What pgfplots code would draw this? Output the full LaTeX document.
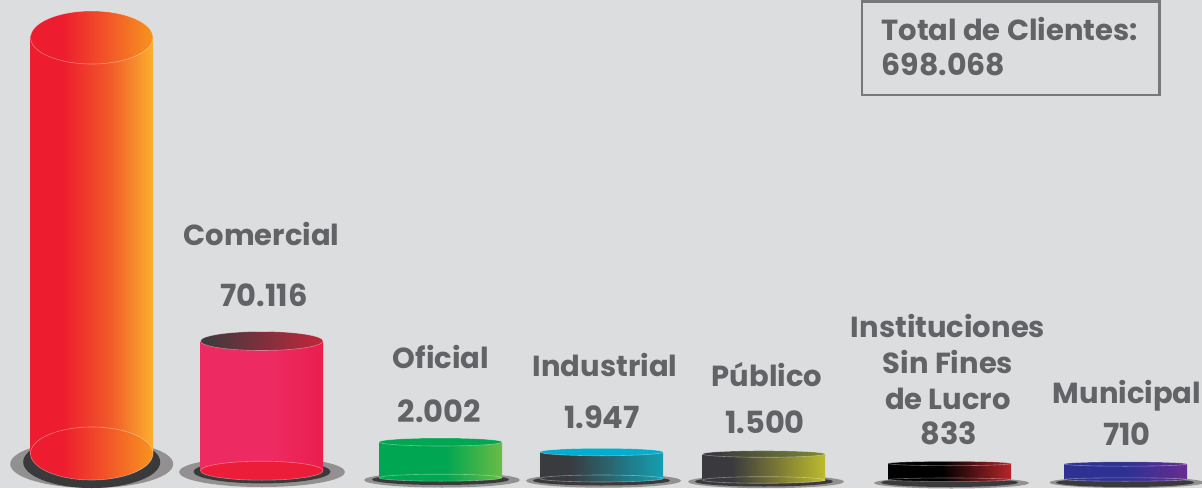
\documentclass[border=0pt]{standalone}
\usepackage{pgfplots}
\pgfplotsset{compat=1.18}
\usepackage{fontspec}
\setmainfont{Poppins}
\usetikzlibrary{shapes.geometric}
\definecolor{bg}{HTML}{DCDDDF}
\definecolor{txt}{HTML}{626366}
\definecolor{boxc}{HTML}{77787B}
\definecolor{sgray}{HTML}{939091}
\definecolor{sdark}{HTML}{3A3A3D}
\definecolor{b1a}{HTML}{ED1C2E}\definecolor{b1b}{HTML}{F15A29}\definecolor{b1c}{HTML}{FBB02D}
\definecolor{c1a}{HTML}{ED1C2E}\definecolor{c1b}{HTML}{F25A28}\definecolor{c1c}{HTML}{F7941E}
\definecolor{b2a}{HTML}{EE2A62}\definecolor{b2b}{HTML}{E91E4E}
\definecolor{c2a}{HTML}{3A3A3E}\definecolor{c2b}{HTML}{C1273A}
\definecolor{b3a}{HTML}{00A651}\definecolor{b3b}{HTML}{6ABD45}
\definecolor{b4a}{HTML}{393B3F}\definecolor{b4b}{HTML}{139FB3}\definecolor{c4}{HTML}{00AECF}
\definecolor{b5a}{HTML}{3A3A3E}\definecolor{b5b}{HTML}{BDBB2C}\definecolor{c5b}{HTML}{7C8A35}
\definecolor{b6a}{HTML}{000000}\definecolor{b6b}{HTML}{B5252B}
\definecolor{b7a}{HTML}{2E3192}\definecolor{b7b}{HTML}{662D91}
\pgfdeclarehorizontalshading{b1}{100bp}{color(0bp)=(b1a);color(38bp)=(b1a);color(57.5bp)=(b1b);color(75bp)=(b1c);color(100bp)=(b1c)}
\pgfdeclarehorizontalshading{c1}{100bp}{color(0bp)=(c1a);color(38bp)=(c1a);color(57.5bp)=(c1b);color(75bp)=(c1c);color(100bp)=(c1c)}
\pgfdeclarehorizontalshading{b2}{100bp}{color(0bp)=(b2a);color(25bp)=(b2a);color(55bp)=(b2a);color(75bp)=(b2b);color(100bp)=(b2b)}
\pgfdeclarehorizontalshading{c2}{100bp}{color(0bp)=(c2a);color(25bp)=(c2a);color(75bp)=(c2b);color(100bp)=(c2b)}
\pgfdeclarehorizontalshading{b3}{100bp}{color(0bp)=(b3a);color(52bp)=(b3a);color(75bp)=(b3b);color(100bp)=(b3b)}
\pgfdeclarehorizontalshading{b4}{100bp}{color(0bp)=(b4a);color(37bp)=(b4a);color(75bp)=(b4b);color(100bp)=(b4b)}
\pgfdeclarehorizontalshading{b5}{100bp}{color(0bp)=(b5a);color(37bp)=(b5a);color(75bp)=(b5b);color(100bp)=(b5b)}
\pgfdeclarehorizontalshading{c5}{100bp}{color(0bp)=(b5a);color(30bp)=(b5a);color(75bp)=(c5b);color(100bp)=(c5b)}
\pgfdeclarehorizontalshading{b6}{100bp}{color(0bp)=(b6a);color(47bp)=(b6a);color(75bp)=(b6b);color(100bp)=(b6b)}
\pgfdeclarehorizontalshading{b7}{100bp}{color(0bp)=(b7a);color(50bp)=(b7a);color(75bp)=(b7b);color(100bp)=(b7b)}
\pgfplotsset{
  el/.style n args={3}{draw=none, no markers, nodes near coords={},
    nodes near coords style={shape=ellipse, anchor=center, inner sep=0pt, outer sep=0pt, overlay,
      minimum width=#1pt, minimum height=#2pt, #3}},
  body/.style={draw=none, no markers},
  page/.style={hide axis, scale only axis, width=1202pt, height=488pt,
    xmin=0, xmax=1202, ymin=0, ymax=488, clip=false},
}
\tikzset{rim/.style={draw=white, draw opacity=.38, line width=.6pt}}
\newcommand\lab[3]{\node[overlay, anchor=base, text=txt, font=\fontsize{29}{34}\selectfont\bfseries] at (axis cs:#1,#2) {#3};}
\newcommand\labn[3]{\node[overlay, anchor=base, text=txt, font=\fontsize{30.5}{34}\selectfont\bfseries] at (axis cs:#1,#2) {#3};}
\begin{document}
\begin{tikzpicture}
\begin{axis}[page]
% background
\addplot[fill=bg, draw=none, no markers] coordinates {(0,0)(1202,0)(1202,488)(0,488)} -- cycle;
% base shadows: outer, inner
\addplot[el={163}{48}{fill=sgray}] coordinates {(91.7,24)};
\addplot[el={137}{52}{fill=sdark}] coordinates {(91.7,26)};
\addplot[el={166}{30}{fill=sgray}] coordinates {(262,16)};
\addplot[el={137}{23.4}{fill=sdark}] coordinates {(262,16.3)};
\addplot[el={156}{15}{fill=sgray}] coordinates {(442,8)};
\addplot[el={137}{11}{fill=sdark}] coordinates {(440.5,8.5)};
\addplot[el={155}{14}{fill=sgray}] coordinates {(603.5,7.3)};
\addplot[el={137}{10}{fill=sdark}] coordinates {(601.5,7.5)};
\addplot[el={156}{13}{fill=sgray}] coordinates {(766,6.3)};
\addplot[el={138}{10}{fill=sdark}] coordinates {(764,6.5)};
\addplot[el={155}{11}{fill=sgray}] coordinates {(951.5,5)};
\addplot[el={137}{9}{fill=sdark}] coordinates {(949.5,5.5)};
\addplot[el={155}{11}{fill=sgray}] coordinates {(1127,5.5)};
\addplot[el={138}{9}{fill=sdark}] coordinates {(1125,5.5)};
\end{axis}
\begin{axis}[page]
% cylinder 1
\addplot[body, shading=b1] coordinates {(30.5,34.5)(30.5,450.5)(153,450.5)(153,34.5)} -- cycle;
\addplot[el={122.5}{53}{shading=c1, rim}] coordinates {(91.75,34.5)};
\addplot[el={122.5}{53}{shading=c1, rim}] coordinates {(91.75,450.5)};
% cylinder 2
\addplot[body, shading=b2] coordinates {(200.5,17.3)(200.5,147)(323,147)(323,17.3)} -- cycle;
\addplot[el={122.5}{19}{fill=b1a!70!b2b, rim}] coordinates {(261.75,17.3)};
\addplot[el={122.5}{19}{shading=c2, rim}] coordinates {(261.75,147)};
% cylinder 3
\addplot[body, shading=b3] coordinates {(379,10.3)(379,46)(502,46)(502,10.3)} -- cycle;
\addplot[el={123}{7}{shading=b3, rim}] coordinates {(440.5,10.3)};
\addplot[el={123}{8}{fill=b3a, rim}] coordinates {(440.5,46)};
% cylinder 4
\addplot[body, shading=b4] coordinates {(540,9.5)(540,36)(663,36)(663,9.5)} -- cycle;
\addplot[el={123}{7}{shading=b4, rim}] coordinates {(601.5,9.5)};
\addplot[el={123}{7.5}{fill=c4, rim}] coordinates {(601.5,36)};
% cylinder 5
\addplot[body, shading=b5] coordinates {(702.5,8)(702.5,34)(825,34)(825,8)} -- cycle;
\addplot[el={122.5}{6.6}{shading=b5, rim}] coordinates {(763.75,8)};
\addplot[el={122.5}{6.6}{shading=c5, rim}] coordinates {(763.75,34)};
% cylinder 6
\addplot[body, shading=b6] coordinates {(888,8.3)(888,24.5)(1011,24.5)(1011,8.3)} -- cycle;
\addplot[el={123}{3.4}{shading=b6, rim}] coordinates {(949.5,8.3)};
\addplot[el={123}{4.4}{shading=b6, rim}] coordinates {(949.5,24.5)};
% cylinder 7
\addplot[body, shading=b7] coordinates {(1064,8.5)(1064,24)(1187,24)(1187,8.5)} -- cycle;
\addplot[el={123}{3.4}{shading=b7, rim}] coordinates {(1125.5,8.5)};
\addplot[el={123}{4.4}{shading=b7, rim}] coordinates {(1125.5,24)};
% box
\addplot[draw=boxc, line width=2.6pt, no markers] coordinates {(862,393)(862,486.5)(1159.5,486.5)(1159.5,393)} -- cycle;
% labels
\lab{261.5}{242}{Comercial}
\labn{264}{182}{70.116}
\lab{441}{120}{Oficial}
\labn{439.5}{66}{2.002}
\lab{605}{112}{Industrial}
\labn{602}{60}{1.947}
\lab{767}{102}{Público}
\labn{765}{55}{1.500}
\lab{948}{151}{Instituciones}
\lab{948}{115}{Sin Fines}
\lab{948}{78.5}{de Lucro}
\labn{949}{44}{833}
\lab{1127}{84.5}{Municipal}
\labn{1127}{43}{710}
\node[overlay, anchor=base west, text=txt, font=\fontsize{29}{34}\selectfont\bfseries] at (axis cs:878,447) {Total de Clientes:};
\node[overlay, anchor=base west, text=txt, font=\fontsize{30}{34}\selectfont\bfseries] at (axis cs:878,412) {698.068};
\end{axis}
\end{tikzpicture}
\end{document}
